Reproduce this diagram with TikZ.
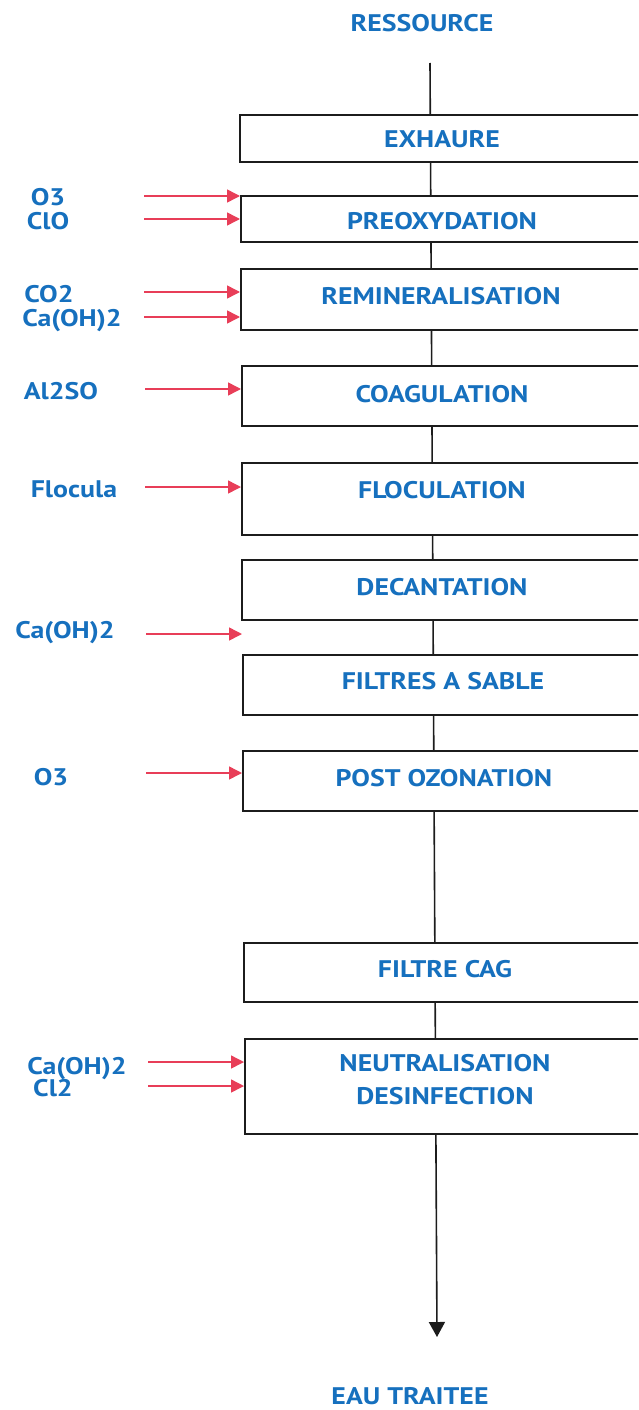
\documentclass[tikz,border=0pt]{standalone}
\usepackage{fontspec}
\setmainfont{PT Sans}[FakeStretch=1.16]
\usetikzlibrary{arrows.meta,calc}
\definecolor{lbl}{RGB}{22,112,190}
\definecolor{feedred}{RGB}{232,62,88}
\definecolor{ink}{RGB}{28,28,28}
\begin{document}
\begin{tikzpicture}[x=1pt,y=-1pt,
  txt/.style={text=lbl,font=\bfseries\fontsize{24}{33}\selectfont,inner sep=0pt,anchor=base},
  stage/.style={draw=ink,line width=1.6pt,fill=white,inner sep=0pt,anchor=north west},
  flow/.style={draw=ink,line width=1.6pt},
  feed/.style={draw=feedred,line width=1.5pt,-{Triangle[length=13pt,width=13pt]}},
  outlet/.style={flow,-{Triangle[length=15pt,width=16pt]}}]
\useasboundingbox (0,0) rectangle (638,1410);
\clip (0,0) rectangle (638,1410);

% treatment stages (left edge, top, width to page edge, height)
\node[stage,minimum width=405pt,minimum height=47pt] (exh) at (239,114) {};
\node[stage,minimum width=404pt,minimum height=46pt] (pre) at (240,195) {};
\node[stage,minimum width=404pt,minimum height=61pt] (rem) at (240,268) {};
\node[stage,minimum width=403pt,minimum height=60pt] (coa) at (241,365) {};
\node[stage,minimum width=403pt,minimum height=72pt] (flo) at (241,462) {};
\node[stage,minimum width=403pt,minimum height=60pt] (dec) at (241,559) {};
\node[stage,minimum width=402pt,minimum height=60pt] (fil) at (242,654) {};
\node[stage,minimum width=402pt,minimum height=60pt] (pos) at (242,750) {};
\node[stage,minimum width=401pt,minimum height=59pt] (cag) at (243,942) {};
\node[stage,minimum width=400pt,minimum height=95pt] (neu) at (244,1038) {};

% main water line
\coordinate (s0) at (430,63);
\coordinate (s9) at (437,1337);
\draw[flow] (s0) -- ($(s0)!(exh.north)!(s9)$);
\foreach \a/\b in {exh/pre,pre/rem,rem/coa,coa/flo,flo/dec,dec/fil,fil/pos,pos/cag,cag/neu}
  \draw[flow] ($(s0)!(\a.south)!(s9)$) -- ($(s0)!(\b.north)!(s9)$);
\draw[outlet] ($(s0)!(neu.south)!(s9)$) -- (s9);

% stage names
\node[txt] (t0) at (422,32) {RESSOURCE};
\node[txt] (t1) at (442,147) {EXHAURE};
\node[txt] (t2) at (442,229) {PREOXYDATION};
\node[txt] (t3) at (441,304) {REMINERALISATION};
\node[txt] (t4) at (442,402) {COAGULATION};
\node[txt] (t5) at (442,498) {FLOCULATION};
\node[txt] (t6) at (442,595) {DECANTATION};
\node[txt] (t7) at (443,689) {FILTRES A SABLE};
\node[txt] (t8) at (444,786) {POST OZONATION};
\node[txt] (t9) at (445,977) {FILTRE CAG};
\node[txt] (t10) at (445,1071) {NEUTRALISATION};
\node[txt] (t11) at (445,1104) {DESINFECTION};
\node[txt] (t12) at (410,1404) {EAU TRAITEE};

% reagents
\node[txt] (r1) at (48,205) {O3};
\node[txt] (r2) at (48,229) {ClO};
\node[txt] (r3) at (49,302) {CO2};
\node[txt] (r4) at (72,326) {Ca(OH)2};
\node[txt] (r5) at (61,399) {Al2SO};
\node[txt] (r6) at (74,497) {Flocula};
\node[txt] (r7) at (65,638) {Ca(OH)2};
\node[txt] (r8) at (51,785) {O3};
\node[txt] (r9) at (77,1074) {Ca(OH)2};
\node[txt] (r10) at (53,1096) {Cl2};

% dosing arrows
\coordinate (f1) at (144,196);
\coordinate (f2) at (144,219);
\coordinate (f3) at (144,292);
\coordinate (f4) at (144,317);
\coordinate (f5) at (145,389);
\coordinate (f6) at (145,487);
\coordinate (f7) at (146,634);
\coordinate (f8) at (146,773);
\coordinate (f9) at (148,1062);
\coordinate (f10) at (148,1086);
\draw[feed] (f1) -- (f1 -| pre.west);
\draw[feed] (f2) -- (f2 -| pre.west);
\draw[feed] (f3) -- (f3 -| rem.west);
\draw[feed] (f4) -- (f4 -| rem.west);
\draw[feed] (f5) -- (f5 -| coa.west);
\draw[feed] (f6) -- (f6 -| flo.west);
\draw[feed] (f7) -- (f7 -| fil.west);
\draw[feed] (f8) -- (f8 -| pos.west);
\draw[feed] (f9) -- (f9 -| neu.west);
\draw[feed] (f10) -- (f10 -| neu.west);
\end{tikzpicture}
\end{document}
